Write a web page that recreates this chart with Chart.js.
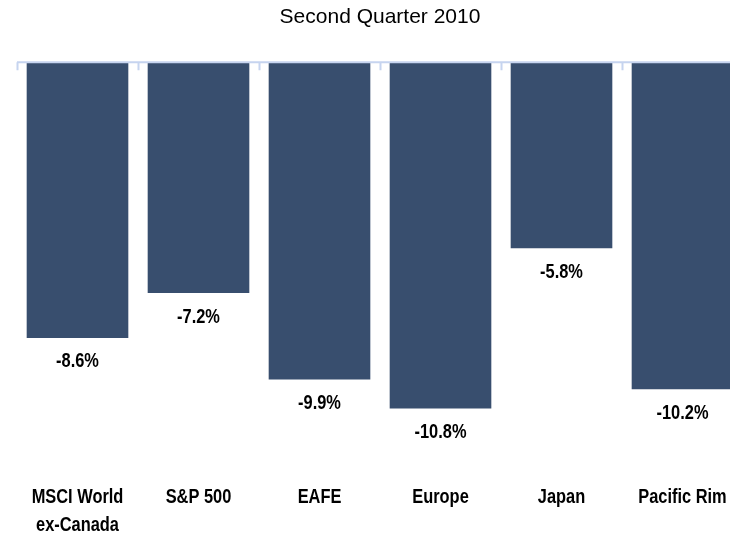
<!DOCTYPE html>
<html>
<head>
<meta charset="utf-8">
<script src="https://cdn.jsdelivr.net/npm/chart.js@4.4.0/dist/chart.umd.min.js"></script>
<style>
  html, body { margin: 0; padding: 0; background: #fff; overflow: hidden; }
  #wrap { width: 760px; height: 540px; }
</style>
</head>
<body>
<div id="wrap"><canvas id="chart" width="760" height="540"></canvas></div>
<script>
// chart data
const categories = ['MSCI World', 'S&P 500', 'EAFE', 'Europe', 'Japan', 'Pacific Rim'];
const categoryLabels = [['MSCI World', 'ex-Canada'], ['S&P 500'], ['EAFE'], ['Europe'], ['Japan'], ['Pacific Rim']];
const returns = [-8.6, -7.2, -9.9, -10.8, -5.8, -10.2];
const titleText = 'Second Quarter 2010';

// no narrow face installed, so squeeze bold Liberation Sans horizontally
function narrowText(ctx, text, x, y) {
  ctx.save();
  ctx.translate(x, y);
  ctx.scale(0.82, 1);
  ctx.fillText(text, 0, 0);
  ctx.restore();
}

// axis line with tick marks hanging down from zero, value labels and category labels
const decorations = {
  id: 'decorations',
  afterDatasetsDraw(chart) {
    const ctx = chart.ctx;
    const x = chart.scales.x;
    const y = chart.scales.y;
    const zero = y.getPixelForValue(0);
    ctx.save();
    ctx.strokeStyle = '#c6d4ef';
    ctx.lineWidth = 2;
    ctx.beginPath();
    ctx.moveTo(x.getPixelForValue(-0.5), zero);
    ctx.lineTo(x.getPixelForValue(categories.length - 0.5), zero);
    for (let i = 0; i <= categories.length; i++) {
      const px = Math.round(x.getPixelForValue(i - 0.5)) + 0.5;
      ctx.moveTo(px, zero);
      ctx.lineTo(px, zero + 8);
    }
    ctx.stroke();

    ctx.fillStyle = '#000';
    ctx.font = "bold 20px 'Liberation Sans', Arial, sans-serif";
    ctx.textAlign = 'center';
    ctx.textBaseline = 'middle';
    chart.getDatasetMeta(0).data.forEach((bar, i) => {
      narrowText(ctx, returns[i].toFixed(1) + '%', bar.x, bar.y + 24);
    });

    const base = chart.chartArea.bottom + 18;
    categoryLabels.forEach((lines, i) => {
      const cx = x.getPixelForValue(i);
      lines.forEach((line, j) => narrowText(ctx, line, cx, base + j * 28));
    });
    ctx.restore();
  }
};

const ctx = document.getElementById('chart').getContext('2d');
new Chart(ctx, {
  type: 'bar',
  data: {
    labels: categories,
    datasets: [{
      data: returns,
      backgroundColor: '#384e6e',
      categoryPercentage: 1,
      barPercentage: 0.84
    }]
  },
  options: {
    responsive: false,
    animation: false,
    layout: { padding: { left: 17, right: 17, top: 0, bottom: 61 } },
    plugins: {
      legend: { display: false },
      tooltip: { enabled: false },
      title: {
        display: true,
        text: titleText,
        color: '#000',
        font: { family: "'Liberation Sans', Arial, sans-serif", size: 21, weight: 'normal', lineHeight: 1.2 },
        padding: { top: 5, bottom: 32 }
      }
    },
    scales: {
      x: { display: false, type: 'category' },
      y: { display: false, min: -13, max: 0 }
    }
  },
  plugins: [decorations]
});
</script>
</body>
</html>
